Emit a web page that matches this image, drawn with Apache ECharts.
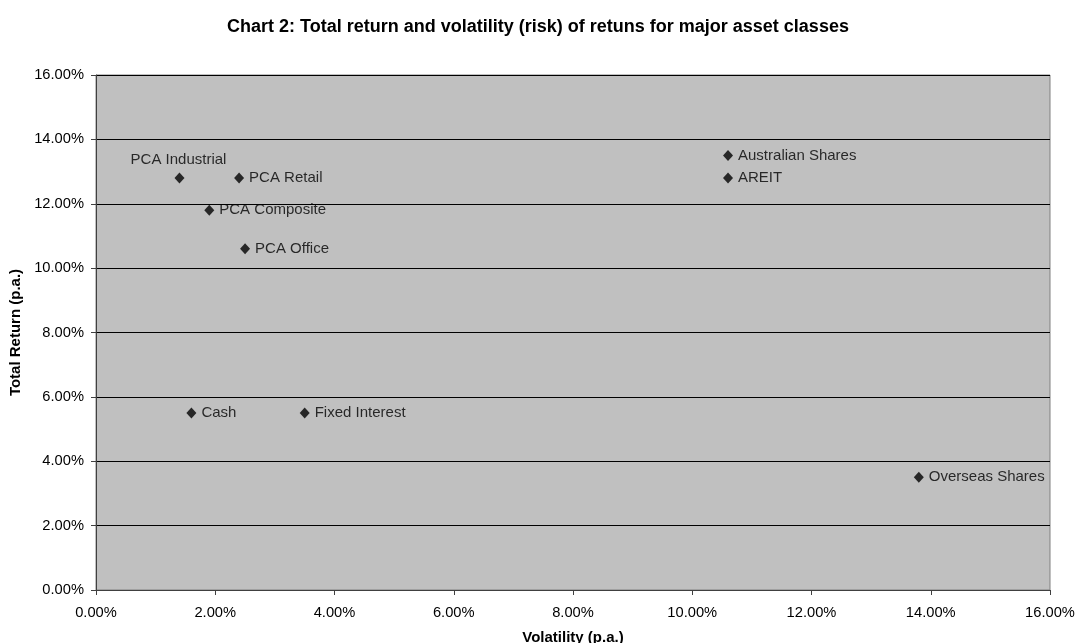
<!DOCTYPE html>
<html>
<head>
<meta charset="utf-8">
<script src="https://cdn.jsdelivr.net/npm/echarts@6/dist/echarts.min.js"></script>
<style>
html,body{margin:0;padding:0;background:#fff;}
#chart{width:1076px;height:643px;}
</style>
</head>
<body>
<div id="chart"></div>
<script>
const assetNames = ["PCA Industrial","PCA Retail","PCA Composite","PCA Office","Cash","Fixed Interest","Australian Shares","AREIT","Overseas Shares"];
const volatility = [1.4, 2.4, 1.9, 2.5, 1.6, 3.5, 10.6, 10.6, 13.8];
const totalReturn = [12.8, 12.8, 11.8, 10.6, 5.5, 5.5, 13.5, 12.8, 3.5];
const axisTicks = [0, 2, 4, 6, 8, 10, 12, 14, 16];
const labelSide = {"PCA Industrial": "top"};

const fmt = v => v.toFixed(2) + '%';
const font = '"Liberation Sans", Arial, sans-serif';

const chart = echarts.init(document.getElementById('chart'));
chart.setOption({
  animation: false,
  backgroundColor: '#ffffff',
  textStyle: {fontFamily: font},
  title: {
    text: 'Chart 2: Total return and volatility (risk) of retuns for major asset classes',
    left: 'center', top: 13,
    textStyle: {fontFamily: font, fontSize: 18, fontWeight: 'bold', color: '#000'}
  },
  grid: {
    left: 96, right: 26, top: 75, bottom: 53,
    outerBoundsMode: 'none', containLabel: false,
    show: true, backgroundColor: '#C0C0C0', borderColor: '#808080', borderWidth: 1
  },
  xAxis: {
    type: 'value', min: axisTicks[0], max: axisTicks[axisTicks.length-1], interval: 2,
    name: 'Volatility (p.a.)', nameLocation: 'middle', nameGap: 40,
    nameTextStyle: {fontFamily: font, fontSize: 15, fontWeight: 'bold', color: '#000'},
    axisLine: {show: true, lineStyle: {color: '#404040', width: 1}},
    axisTick: {show: true, length: 5, lineStyle: {color: '#404040'}},
    axisLabel: {formatter: fmt, fontFamily: font, fontSize: 14.7, color: '#000', margin: 15},
    splitLine: {show: false}
  },
  yAxis: {
    type: 'value', min: axisTicks[0], max: axisTicks[axisTicks.length-1], interval: 2,
    name: 'Total Return (p.a.)', nameLocation: 'middle', nameGap: 70, nameRotate: 90,
    nameTextStyle: {fontFamily: font, fontSize: 15, fontWeight: 'bold', color: '#000'},
    axisLine: {show: true, lineStyle: {color: '#404040', width: 1}},
    axisTick: {show: true, length: 5, lineStyle: {color: '#404040'}},
    axisLabel: {formatter: fmt, fontFamily: font, fontSize: 14.7, color: '#000', margin: 12},
    splitLine: {show: true, lineStyle: {color: '#000', width: 1}}
  },
  series: [{
    type: 'scatter',
    symbol: 'diamond',
    symbolSize: [10, 11],
    itemStyle: {color: '#000'},
    data: assetNames.map((n, i) => ({
      name: n,
      value: [volatility[i], totalReturn[i]],
      label: labelSide[n] === 'top'
        ? {show: true, position: 'top', distance: 5, offset: [-1, 0]}
        : {show: true, position: 'right', distance: 5}
    })),
    label: {
      show: true, formatter: p => p.name,
      fontFamily: font, fontSize: 15, color: '#000'
    }
  }]
});
</script>
</body>
</html>
